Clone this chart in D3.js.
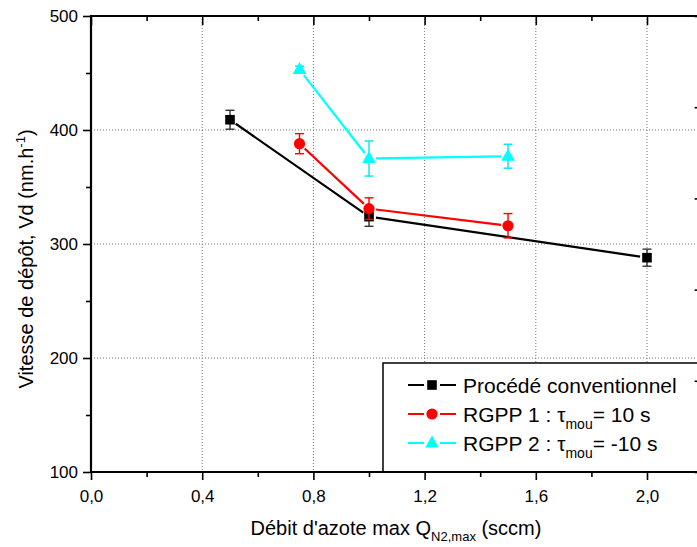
<!DOCTYPE html>
<html><head><meta charset="utf-8">
<script src="https://cdn.jsdelivr.net/npm/d3@7"></script>
<style>body{margin:0;background:#fff}svg{display:block;font-family:"Liberation Sans",Arial,sans-serif}</style>
</head><body>
<svg id="c" width="697" height="547"></svg>
<script>
const xConv=[0.5,1.0,2.0], yConv=[409,324,288], eConv=[8.3,8.5,7.5];
const xR1=[0.75,1.0,1.5], yR1=[388,331,316], eR1=[8.8,9.5,10.7];
const xR2=[0.75,1.0,1.5], yR2=[453,375,377], eR2=[3,15.4,10.5];
const xTicks=[0,0.4,0.8,1.2,1.6,2.0];
const xTickLabels=["0,0","0,4","0,8","1,2","1,6","2,0"];
const xMinor=[0.2,0.6,1.0,1.4,1.8,2.2];
const yTicks=[100,200,300,400,500];
const yMinor=[150,250,350,450];
const rightTicks=[0,1,2,3,4,5];
const names=["Procédé conventionnel","RGPP 1 : τ","RGPP 2 : τ"];
const nameTails=["","= 10 s","= -10 s"];

const svg=d3.select("#c");
const L=91,T=16,B=472,R=702.6;
const x=d3.scaleLinear().domain([0,2.2]).range([L,R]);
const y=d3.scaleLinear().domain([100,500]).range([B,T]);
const yr=d3.scaleLinear().domain([0,5]).range([B,T]);

// grid
const g=svg.append("g");
g.selectAll(".gx").data(xTicks.slice(1)).join("line")
 .attr("x1",d=>x(d)).attr("x2",d=>x(d)).attr("y1",T).attr("y2",B)
 .attr("stroke","#777").attr("stroke-width",1).attr("stroke-dasharray","1,2");
g.selectAll(".gy").data([200,300,400]).join("line")
 .attr("y1",d=>y(d)).attr("y2",d=>y(d)).attr("x1",L).attr("x2",R)
 .attr("stroke","#777").attr("stroke-width",1).attr("stroke-dasharray","1,2");

// axes
const ax=svg.append("g");
const bottom=d3.axisBottom(x).tickValues(xTicks).tickFormat((d,i)=>xTickLabels[i]).tickSize(8).tickPadding(10);
ax.append("g").attr("transform",`translate(0,${B})`).call(bottom)
 .call(s=>{s.select(".domain").remove();s.selectAll("text").attr("font-size",17).attr("font-family","Liberation Sans, Arial");});
ax.append("g").attr("transform",`translate(0,${B})`).call(d3.axisBottom(x).tickValues(xMinor).tickSize(5).tickFormat(""))
 .call(s=>s.select(".domain").remove());
ax.append("g").attr("transform",`translate(0,${T})`).call(d3.axisBottom(x).tickValues(xTicks).tickSize(9).tickFormat(""))
 .call(s=>s.select(".domain").remove());
ax.append("g").attr("transform",`translate(0,${T})`).call(d3.axisBottom(x).tickValues(xMinor).tickSize(5).tickFormat(""))
 .call(s=>s.select(".domain").remove());
ax.append("g").attr("transform",`translate(${L},0)`).call(d3.axisLeft(y).tickValues(yTicks).tickSize(8).tickPadding(5))
 .call(s=>{s.select(".domain").remove();s.selectAll("text").attr("font-size",17).attr("font-family","Liberation Sans, Arial");});
ax.append("g").attr("transform",`translate(${L},0)`).call(d3.axisLeft(y).tickValues(yMinor).tickSize(5).tickFormat(""))
 .call(s=>s.select(".domain").remove());
ax.selectAll(".tick line").attr("stroke","#000").attr("stroke-width",1.6);
// frame lines
svg.append("line").attr("x1",L).attr("x2",L).attr("y1",T-1).attr("y2",B+1).attr("stroke","#000").attr("stroke-width",2.2);
svg.append("line").attr("x1",L).attr("x2",R).attr("y1",T).attr("y2",T).attr("stroke","#000").attr("stroke-width",2.2);
svg.append("line").attr("x1",L).attr("x2",R).attr("y1",B).attr("y2",B).attr("stroke","#000").attr("stroke-width",2.2);

// series
const series=[
 {xs:xConv,ys:yConv,es:eConv,color:"#000",ecolor:"#333",shape:"square"},
 {xs:xR1,ys:yR1,es:eR1,color:"#ff0000",ecolor:"#ff0000",shape:"circle"},
 {xs:xR2,ys:yR2,es:eR2,color:"#00ffff",ecolor:"#00e5ee",shape:"triangle"}
];
function marker(sel,shape,color){
 if(shape==="square") sel.append("rect").attr("x",-4.8).attr("y",-4.8).attr("width",9.6).attr("height",9.6).attr("fill",color);
 else if(shape==="circle") sel.append("circle").attr("r",5.6).attr("fill",color);
 else sel.append("path").attr("d","M0,-7.5L6.8,4.5L-6.8,4.5Z").attr("fill",color);
}
const gap=7;
series.forEach(s=>{
 const gs=svg.append("g");
 for(let i=0;i<s.xs.length-1;i++){
  const x1=x(s.xs[i]),y1=y(s.ys[i]),x2=x(s.xs[i+1]),y2=y(s.ys[i+1]);
  const len=Math.hypot(x2-x1,y2-y1),ux=(x2-x1)/len,uy=(y2-y1)/len;
  gs.append("line").attr("x1",x1+ux*gap).attr("y1",y1+uy*gap).attr("x2",x2-ux*gap).attr("y2",y2-uy*gap)
   .attr("stroke",s.color).attr("stroke-width",2.2);
 }
 s.xs.forEach((xv,i)=>{
  const cx=x(xv),cy=y(s.ys[i]),t=y(s.ys[i]+s.es[i]),b=y(s.ys[i]-s.es[i]);
  gs.append("line").attr("x1",cx).attr("x2",cx).attr("y1",t).attr("y2",b).attr("stroke",s.ecolor).attr("stroke-width",1.4);
  [t,b].forEach(v=>gs.append("line").attr("x1",cx-4.5).attr("x2",cx+4.5).attr("y1",v).attr("y2",v).attr("stroke",s.ecolor).attr("stroke-width",1.4));
  marker(gs.append("g").attr("transform",`translate(${cx},${cy})`),s.shape,s.color);
 });
});

// legend
const lg=svg.append("g");
lg.append("rect").attr("x",383).attr("y",363).attr("width",400).attr("height",B-363)
 .attr("fill","#fff").attr("stroke","#000").attr("stroke-width",1.5);
const rows=[385,414,443];
series.forEach((s,i)=>{
 const ry=rows[i];
 lg.append("line").attr("x1",408).attr("x2",456).attr("y1",ry).attr("y2",ry).attr("stroke",s.color).attr("stroke-width",2.2);
 lg.append("line").attr("x1",424).attr("x2",440).attr("y1",ry).attr("y2",ry).attr("stroke","#fff").attr("stroke-width",4);
 marker(lg.append("g").attr("transform",`translate(432,${ry})`),s.shape,s.color);
 const t=lg.append("text").attr("x",463).attr("y",ry+7.5).attr("font-size",21).attr("fill","#000");
 t.append("tspan").text(names[i]);
 if(i>0){
  t.append("tspan").attr("font-size",14).attr("dy",7).text("mou");
  t.append("tspan").attr("dy",-7).text(nameTails[i]);
 }
});
svg.append("line").attr("x1",383).attr("x2",R).attr("y1",B).attr("y2",B).attr("stroke","#000").attr("stroke-width",2.2);

// right axis (mostly outside view)
svg.append("g").attr("transform",`translate(${R},0)`).call(d3.axisRight(yr).tickValues(rightTicks).tickSize(-8).tickFormat(""))
 .call(s=>{s.select(".domain").remove();s.selectAll("line").attr("stroke","#000").attr("stroke-width",1.6);});

// axis titles
const xt=svg.append("text").attr("x",396).attr("y",535).attr("text-anchor","middle").attr("font-size",20);
xt.append("tspan").text("Débit d'azote max Q");
xt.append("tspan").attr("font-size",13).attr("dy",6).text("N2,max");
xt.append("tspan").attr("dy",-6).text(" (sccm)");
const yt=svg.append("text").attr("transform","translate(33,259) rotate(-90)").attr("text-anchor","middle").attr("font-size",20);
yt.append("tspan").text("Vitesse de dépôt, Vd (nm.h");
yt.append("tspan").attr("font-size",13).attr("dy",-8).text("-1");
yt.append("tspan").attr("dy",8).text(")");
</script>
</body></html>
